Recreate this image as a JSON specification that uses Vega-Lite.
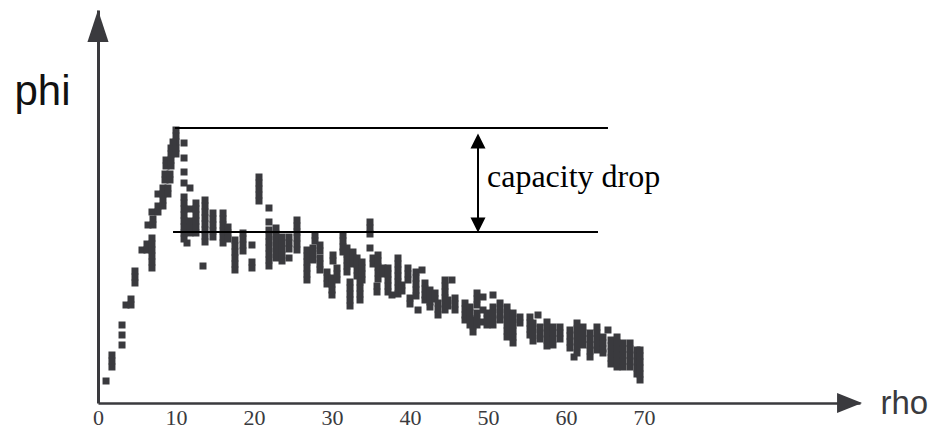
{
  "$schema": "https://vega.github.io/schema/vega-lite/v6.json",
  "width": 762,
  "height": 393,
  "autosize": {"type": "none"},
  "padding": {"left": 98, "top": 10, "right": 78, "bottom": 29},
  "background": "white",
  "config": {"view": {"stroke": null}},
  "datasets": {
    "pts": [
      {"rho":1.03,"phi":22},
      {"rho":1.79,"phi":48},{"rho":1.79,"phi":42},{"rho":1.79,"phi":36},
      {"rho":3.08,"phi":78},{"rho":3.08,"phi":68},{"rho":3.08,"phi":58},
      {"rho":3.59,"phi":98},
      {"rho":4.23,"phi":98},{"rho":4.23,"phi":104},
      {"rho":4.74,"phi":132},{"rho":4.74,"phi":126},{"rho":4.74,"phi":120},
      {"rho":5.64,"phi":153},
      {"rho":6.28,"phi":159},{"rho":6.28,"phi":153},
      {"rho":6.92,"phi":165},{"rho":6.92,"phi":159},{"rho":6.92,"phi":153},{"rho":6.92,"phi":147},{"rho":6.92,"phi":141},{"rho":6.92,"phi":135},
      {"rho":6.41,"phi":178},
      {"rho":7.05,"phi":184},{"rho":7.05,"phi":178},
      {"rho":6.92,"phi":191},
      {"rho":7.69,"phi":191},{"rho":7.69,"phi":197},{"rho":7.69,"phi":209},
      {"rho":8.33,"phi":197},{"rho":8.33,"phi":203},{"rho":8.33,"phi":209},{"rho":8.33,"phi":215},
      {"rho":8.97,"phi":209},{"rho":8.97,"phi":215},
      {"rho":8.59,"phi":223},{"rho":8.59,"phi":229},
      {"rho":9.23,"phi":223},{"rho":9.23,"phi":229},
      {"rho":8.72,"phi":237},{"rho":8.72,"phi":243},
      {"rho":9.36,"phi":237},{"rho":9.36,"phi":243},{"rho":9.36,"phi":249},{"rho":9.36,"phi":255},
      {"rho":10.0,"phi":249},{"rho":10.0,"phi":255},{"rho":10.0,"phi":261},{"rho":10.0,"phi":267},{"rho":10.0,"phi":273},
      {"rho":9.62,"phi":261},
      {"rho":11.03,"phi":260},{"rho":11.03,"phi":245},{"rho":11.03,"phi":231},{"rho":11.03,"phi":220},
      {"rho":11.79,"phi":215},
      {"rho":11.03,"phi":206},{"rho":11.03,"phi":200},{"rho":11.03,"phi":194},{"rho":11.03,"phi":188},{"rho":11.03,"phi":182},{"rho":11.03,"phi":176},{"rho":11.03,"phi":170},{"rho":11.03,"phi":164},
      {"rho":11.79,"phi":194},{"rho":11.79,"phi":182},{"rho":11.79,"phi":176},{"rho":11.79,"phi":170},
      {"rho":12.56,"phi":200},{"rho":12.56,"phi":194},{"rho":12.56,"phi":188},{"rho":12.56,"phi":182},{"rho":12.56,"phi":176},{"rho":12.56,"phi":170},
      {"rho":11.41,"phi":160},
      {"rho":13.72,"phi":203},{"rho":13.72,"phi":197},{"rho":13.72,"phi":191},{"rho":13.72,"phi":185},{"rho":13.72,"phi":179},{"rho":13.72,"phi":173},{"rho":13.72,"phi":167},{"rho":13.72,"phi":161},
      {"rho":13.46,"phi":137},
      {"rho":14.74,"phi":190},{"rho":14.74,"phi":184},{"rho":14.74,"phi":178},{"rho":14.74,"phi":172},{"rho":14.74,"phi":166},
      {"rho":16.03,"phi":190},{"rho":16.03,"phi":184},{"rho":16.03,"phi":178},{"rho":16.03,"phi":172},{"rho":16.03,"phi":166},{"rho":16.03,"phi":160},
      {"rho":16.67,"phi":176},{"rho":16.67,"phi":170},{"rho":16.67,"phi":164},
      {"rho":17.56,"phi":163},{"rho":17.56,"phi":157},{"rho":17.56,"phi":151},{"rho":17.56,"phi":145},{"rho":17.56,"phi":139},{"rho":17.56,"phi":133},
      {"rho":18.59,"phi":170},{"rho":18.59,"phi":164},{"rho":18.59,"phi":158},{"rho":18.59,"phi":152},
      {"rho":19.74,"phi":158},{"rho":19.74,"phi":141},{"rho":19.74,"phi":135},
      {"rho":20.64,"phi":226},{"rho":20.64,"phi":220},{"rho":20.64,"phi":214},{"rho":20.64,"phi":208},{"rho":20.64,"phi":202},
      {"rho":21.92,"phi":195},{"rho":21.92,"phi":181},{"rho":21.92,"phi":173},{"rho":21.92,"phi":167},{"rho":21.92,"phi":161},{"rho":21.92,"phi":155},{"rho":21.92,"phi":149},{"rho":21.92,"phi":143},{"rho":21.92,"phi":137},
      {"rho":22.82,"phi":175},{"rho":22.82,"phi":169},{"rho":22.82,"phi":163},{"rho":22.82,"phi":157},{"rho":22.82,"phi":151},{"rho":22.82,"phi":145},
      {"rho":23.59,"phi":166},{"rho":23.59,"phi":160},{"rho":23.59,"phi":154},{"rho":23.59,"phi":148},{"rho":23.59,"phi":142},
      {"rho":24.49,"phi":166},{"rho":24.49,"phi":160},{"rho":24.49,"phi":154},{"rho":24.49,"phi":145},
      {"rho":25.51,"phi":183},{"rho":25.51,"phi":177},{"rho":25.51,"phi":171},{"rho":25.51,"phi":165},{"rho":25.51,"phi":159},{"rho":25.51,"phi":153},
      {"rho":26.79,"phi":153},{"rho":26.79,"phi":147},{"rho":26.79,"phi":141},{"rho":26.79,"phi":135},{"rho":26.79,"phi":129},{"rho":26.79,"phi":123},
      {"rho":27.56,"phi":155},{"rho":27.56,"phi":149},{"rho":27.56,"phi":143},
      {"rho":27.82,"phi":168},{"rho":27.82,"phi":162},
      {"rho":28.46,"phi":158},{"rho":28.46,"phi":152},{"rho":28.46,"phi":145},{"rho":28.46,"phi":139},{"rho":28.46,"phi":133},
      {"rho":29.36,"phi":131},{"rho":29.36,"phi":125},{"rho":29.36,"phi":119},
      {"rho":30.0,"phi":125},{"rho":30.0,"phi":119},{"rho":30.0,"phi":113},{"rho":30.0,"phi":108},
      {"rho":30.13,"phi":148},{"rho":30.13,"phi":142},
      {"rho":30.64,"phi":135},{"rho":30.64,"phi":129},{"rho":30.64,"phi":123},
      {"rho":31.41,"phi":168},{"rho":31.41,"phi":162},{"rho":31.41,"phi":156},{"rho":31.41,"phi":151},
      {"rho":31.92,"phi":155},{"rho":31.92,"phi":149},{"rho":31.92,"phi":143},{"rho":31.92,"phi":137},{"rho":31.92,"phi":131},
      {"rho":32.31,"phi":121},{"rho":32.31,"phi":115},{"rho":32.31,"phi":109},{"rho":32.31,"phi":103},{"rho":32.31,"phi":97},
      {"rho":32.69,"phi":151},{"rho":32.69,"phi":145},{"rho":32.69,"phi":139},
      {"rho":33.21,"phi":145},{"rho":33.21,"phi":139},{"rho":33.21,"phi":133},{"rho":33.21,"phi":127},
      {"rho":33.59,"phi":121},{"rho":33.59,"phi":115},{"rho":33.59,"phi":109},{"rho":33.59,"phi":103},
      {"rho":33.85,"phi":141},{"rho":33.85,"phi":135},{"rho":33.85,"phi":129},{"rho":33.85,"phi":123},
      {"rho":34.87,"phi":181},{"rho":34.87,"phi":175},{"rho":34.87,"phi":169},{"rho":34.87,"phi":155},
      {"rho":35.26,"phi":145},{"rho":35.26,"phi":139},
      {"rho":35.9,"phi":148},{"rho":35.9,"phi":142},{"rho":35.9,"phi":136},{"rho":35.9,"phi":130},{"rho":35.9,"phi":124},
      {"rho":35.77,"phi":117},{"rho":35.77,"phi":111},
      {"rho":36.54,"phi":135},{"rho":36.54,"phi":129},
      {"rho":37.18,"phi":135},{"rho":37.18,"phi":129},{"rho":37.18,"phi":123},{"rho":37.18,"phi":117},{"rho":37.18,"phi":111},
      {"rho":37.69,"phi":108},
      {"rho":38.46,"phi":145},{"rho":38.46,"phi":139},{"rho":38.46,"phi":133},{"rho":38.46,"phi":127},{"rho":38.46,"phi":121},{"rho":38.46,"phi":115},{"rho":38.46,"phi":109},
      {"rho":38.97,"phi":118},{"rho":38.97,"phi":112},
      {"rho":39.74,"phi":135},{"rho":39.74,"phi":129},{"rho":39.74,"phi":123},
      {"rho":40.0,"phi":105},{"rho":40.0,"phi":99},
      {"rho":40.77,"phi":131},{"rho":40.77,"phi":125},{"rho":40.77,"phi":119},{"rho":40.77,"phi":113},{"rho":40.77,"phi":107},
      {"rho":41.03,"phi":93},
      {"rho":41.54,"phi":133},
      {"rho":41.92,"phi":120},{"rho":41.92,"phi":114},{"rho":41.92,"phi":108},{"rho":41.92,"phi":103},
      {"rho":42.56,"phi":113},{"rho":42.56,"phi":107},{"rho":42.56,"phi":101},{"rho":42.56,"phi":96},
      {"rho":43.21,"phi":110},{"rho":43.21,"phi":104},
      {"rho":43.59,"phi":100},{"rho":43.59,"phi":94},{"rho":43.59,"phi":88},
      {"rho":44.49,"phi":123},{"rho":44.49,"phi":117},{"rho":44.49,"phi":111},{"rho":44.49,"phi":105},{"rho":44.49,"phi":99},{"rho":44.49,"phi":93},
      {"rho":44.87,"phi":103},{"rho":44.87,"phi":97},
      {"rho":45.38,"phi":123},
      {"rho":45.77,"phi":105},{"rho":45.77,"phi":99},{"rho":45.77,"phi":93},
      {"rho":47.05,"phi":100},{"rho":47.05,"phi":94},{"rho":47.05,"phi":88},{"rho":47.05,"phi":83},
      {"rho":47.69,"phi":96},{"rho":47.69,"phi":90},{"rho":47.69,"phi":84},{"rho":47.69,"phi":78},
      {"rho":48.08,"phi":83},{"rho":48.08,"phi":77},{"rho":48.08,"phi":71},
      {"rho":48.59,"phi":110},{"rho":48.59,"phi":104},{"rho":48.59,"phi":98},{"rho":48.59,"phi":90},{"rho":48.59,"phi":84},{"rho":48.59,"phi":78},
      {"rho":49.36,"phi":106},{"rho":49.36,"phi":93},{"rho":49.36,"phi":81},
      {"rho":49.87,"phi":90},{"rho":49.87,"phi":84},{"rho":49.87,"phi":78},
      {"rho":50.64,"phi":108},{"rho":50.64,"phi":96},{"rho":50.64,"phi":90},{"rho":50.64,"phi":84},{"rho":50.64,"phi":78},
      {"rho":51.54,"phi":100},{"rho":51.54,"phi":94},{"rho":51.54,"phi":88},{"rho":51.54,"phi":83},
      {"rho":52.44,"phi":96},{"rho":52.44,"phi":90},{"rho":52.44,"phi":84},{"rho":52.44,"phi":78},{"rho":52.44,"phi":72},{"rho":52.44,"phi":66},
      {"rho":53.21,"phi":90},{"rho":53.21,"phi":84},{"rho":53.21,"phi":78},{"rho":53.21,"phi":72},{"rho":53.21,"phi":66},{"rho":53.21,"phi":60},
      {"rho":54.1,"phi":86},{"rho":54.1,"phi":80},
      {"rho":55.38,"phi":86},{"rho":55.38,"phi":80},{"rho":55.38,"phi":74},{"rho":55.38,"phi":68},
      {"rho":55.77,"phi":80},{"rho":55.77,"phi":74},{"rho":55.77,"phi":68},{"rho":55.77,"phi":62},
      {"rho":56.41,"phi":88},
      {"rho":56.67,"phi":76},{"rho":56.67,"phi":70},{"rho":56.67,"phi":64},
      {"rho":57.56,"phi":81},{"rho":57.56,"phi":75},{"rho":57.56,"phi":69},{"rho":57.56,"phi":63},{"rho":57.56,"phi":57},
      {"rho":58.33,"phi":76},{"rho":58.33,"phi":70},{"rho":58.33,"phi":64},{"rho":58.33,"phi":58},
      {"rho":59.23,"phi":76},{"rho":59.23,"phi":70},{"rho":59.23,"phi":64},
      {"rho":60.51,"phi":73},{"rho":60.51,"phi":67},{"rho":60.51,"phi":61},{"rho":60.51,"phi":55},
      {"rho":61.03,"phi":46},
      {"rho":61.41,"phi":80},{"rho":61.41,"phi":74},{"rho":61.41,"phi":68},{"rho":61.41,"phi":62},{"rho":61.41,"phi":56},{"rho":61.41,"phi":50},
      {"rho":62.18,"phi":76},{"rho":62.18,"phi":70},{"rho":62.18,"phi":64},{"rho":62.18,"phi":58},
      {"rho":63.08,"phi":70},{"rho":63.08,"phi":64},{"rho":63.08,"phi":58},{"rho":63.08,"phi":52},{"rho":63.08,"phi":46},
      {"rho":63.97,"phi":76},{"rho":63.97,"phi":70},{"rho":63.97,"phi":64},{"rho":63.97,"phi":58},{"rho":63.97,"phi":53},
      {"rho":64.74,"phi":66},{"rho":64.74,"phi":60},{"rho":64.74,"phi":54},{"rho":64.74,"phi":50},
      {"rho":65.38,"phi":73},
      {"rho":65.77,"phi":63},{"rho":65.77,"phi":57},{"rho":65.77,"phi":51},{"rho":65.77,"phi":45},{"rho":65.77,"phi":39},
      {"rho":66.54,"phi":66},{"rho":66.54,"phi":60},{"rho":66.54,"phi":54},{"rho":66.54,"phi":48},{"rho":66.54,"phi":42},{"rho":66.54,"phi":36},
      {"rho":67.31,"phi":60},{"rho":67.31,"phi":54},{"rho":67.31,"phi":48},{"rho":67.31,"phi":42},{"rho":67.31,"phi":36},
      {"rho":68.21,"phi":60},{"rho":68.21,"phi":54},{"rho":68.21,"phi":48},{"rho":68.21,"phi":42},{"rho":68.21,"phi":36},
      {"rho":69.1,"phi":53},{"rho":69.1,"phi":47},{"rho":69.1,"phi":41},{"rho":69.1,"phi":35},{"rho":69.1,"phi":29},
      {"rho":69.49,"phi":53},{"rho":69.49,"phi":47},{"rho":69.49,"phi":41},{"rho":69.49,"phi":35},{"rho":69.49,"phi":29},{"rho":69.49,"phi":23}
    ],
    "levels": [
      {"name": "peak", "rho": 9.87, "rho2": 65.38, "phi": 275},
      {"name": "after", "rho": 9.62, "rho2": 64.1, "phi": 171}
    ],
    "drop": [{"rho": 48.72, "phi": 262, "phi2": 178}],
    "label": [{"rho": 49.87, "phi": 216, "text": "capacity drop"}],
    "yarrow": [{"rho": 0, "phi": 377}],
    "xarrow": [{"rho": 96.35, "phi": 0}]
  },
  "layer": [
    {
      "data": {"name": "pts"},
      "mark": {"type": "point", "shape": "square", "filled": true, "size": 49, "color": "#3a3a3e", "opacity": 1, "strokeWidth": 0},
      "encoding": {
        "x": {
          "field": "rho", "type": "quantitative",
          "scale": {"domain": [0, 97.69], "nice": false, "zero": false},
          "axis": {
            "values": [0, 10, 20, 30, 40, 50, 60, 70],
            "domain": true, "domainColor": "#3a3a3e", "domainWidth": 2.5,
            "ticks": false, "grid": false,
            "labelFont": "Liberation Serif", "labelFontSize": 22, "labelColor": "#3a3a3e",
            "labelPadding": 4, "labelFlush": false, "labelOverlap": false,
            "title": "rho", "titleFont": "Liberation Sans", "titleFontSize": 33, "titleFontWeight": "normal",
            "titleColor": "#3a3a3e", "titleX": 782, "titleY": 10, "titleAlign": "left", "titleBaseline": "alphabetic"
          }
        },
        "y": {
          "field": "phi", "type": "quantitative",
          "scale": {"domain": [0, 393], "nice": false, "zero": false},
          "axis": {
            "domain": true, "domainColor": "#3a3a3e", "domainWidth": 3,
            "ticks": false, "labels": false, "grid": false,
            "title": "phi", "titleFont": "Liberation Sans", "titleFontSize": 42, "titleFontWeight": "normal",
            "titleColor": "#111111", "titleAngle": 0, "titleX": -56, "titleY": 94,
            "titleAlign": "center", "titleBaseline": "alphabetic"
          }
        }
      }
    },
    {
      "data": {"name": "levels"},
      "mark": {"type": "rule", "color": "black", "strokeWidth": 2},
      "encoding": {
        "x": {"field": "rho", "type": "quantitative"},
        "x2": {"field": "rho2"},
        "y": {"field": "phi", "type": "quantitative"}
      }
    },
    {
      "data": {"name": "drop"},
      "mark": {"type": "rule", "color": "black", "strokeWidth": 2},
      "encoding": {
        "x": {"field": "rho", "type": "quantitative"},
        "y": {"field": "phi", "type": "quantitative"},
        "y2": {"field": "phi2"}
      }
    },
    {
      "data": {"name": "drop"},
      "mark": {"type": "point", "shape": "M0,-1L1,1L-1,1Z", "filled": true, "size": 225, "color": "black", "opacity": 1, "strokeWidth": 0},
      "encoding": {
        "x": {"field": "rho", "type": "quantitative"},
        "y": {"field": "phi", "type": "quantitative"}
      }
    },
    {
      "data": {"name": "drop"},
      "mark": {"type": "point", "shape": "M0,1L1,-1L-1,-1Z", "filled": true, "size": 225, "color": "black", "opacity": 1, "strokeWidth": 0},
      "encoding": {
        "x": {"field": "rho", "type": "quantitative"},
        "y": {"field": "phi2", "type": "quantitative"}
      }
    },
    {
      "data": {"name": "yarrow"},
      "mark": {"type": "point", "shape": "M0,-1L0.66,1L-0.66,1Z", "filled": true, "size": 1024, "color": "#3a3a3e", "opacity": 1, "strokeWidth": 0},
      "encoding": {
        "x": {"field": "rho", "type": "quantitative"},
        "y": {"field": "phi", "type": "quantitative"}
      }
    },
    {
      "data": {"name": "xarrow"},
      "mark": {"type": "point", "shape": "M1,0L-1,-0.8L-1,0.8Z", "filled": true, "size": 625, "color": "#3a3a3e", "opacity": 1, "strokeWidth": 0},
      "encoding": {
        "x": {"field": "rho", "type": "quantitative"},
        "y": {"field": "phi", "type": "quantitative"}
      }
    },
    {
      "data": {"name": "label"},
      "mark": {"type": "text", "font": "Liberation Serif", "fontSize": 32, "color": "black", "align": "left", "baseline": "alphabetic"},
      "encoding": {
        "x": {"field": "rho", "type": "quantitative"},
        "y": {"field": "phi", "type": "quantitative"},
        "text": {"field": "text"}
      }
    }
  ]
}
